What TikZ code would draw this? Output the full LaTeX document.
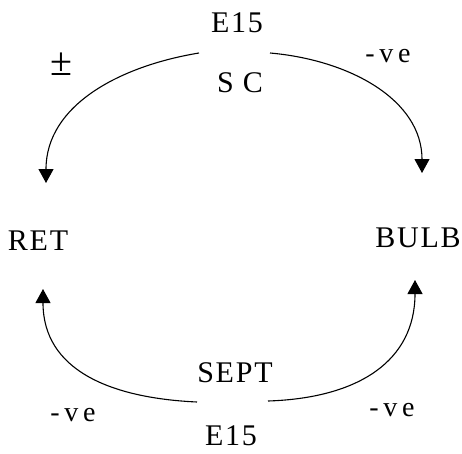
\documentclass[tikz,border=0pt]{standalone}
\usepackage{fontspec}
\setmainfont{Liberation Serif}[LetterSpace=6]
\usetikzlibrary{arrows.meta}
\begin{document}
\begin{tikzpicture}[x=1pt,y=-1pt,
  lbl/.style={font=\fontsize{30}{32}\selectfont, anchor=base, inner sep=0pt},
  sml/.style={font=\fontsize{28}{30}\selectfont, anchor=base, inner sep=0pt},
  sym/.style={font=\fontsize{40}{42}\selectfont, anchor=base, inner sep=0pt},
  arc/.style={line width=1.1pt, -{Triangle[width=15pt,length=14pt]}}]
\useasboundingbox (0,0) rectangle (462,453);
\node[lbl] (e15t) at (237,32) {E15};
\node[lbl] (sc) at (240,92) {S C};
\node[sym] (pm) at (61,75) {±};
\node[sml] (vet) at (388,62) {-\,v\,e};
\node[lbl] (ret) at (38,250) {RET};
\node[lbl] (bulb) at (418,247) {BULB};
\node[lbl] (sept) at (235,382) {SEPT};
\node[lbl] (e15b) at (231,445) {E15};
\node[sml] (vebl) at (73,421) {-\,v\,e};
\node[sml] (vebr) at (392,416) {-\,v\,e};
\coordinate (tls) at (199,53);
\coordinate (tle) at (46,183);
\coordinate (trs) at (270,53);
\coordinate (tre) at (422,173);
\coordinate (bls) at (197,402);
\coordinate (ble) at (43,289);
\coordinate (brs) at (268,401);
\coordinate (bre) at (415,280);
\draw[arc] (tls) .. controls (120,66) and (46,105) .. (tle);
\draw[arc] (trs) .. controls (350,60) and (422,100) .. (tre);
\draw[arc] (bls) .. controls (110,398) and (43,370) .. (ble);
\draw[arc] (brs) .. controls (360,398) and (415,360) .. (bre);
\end{tikzpicture}
\end{document}
